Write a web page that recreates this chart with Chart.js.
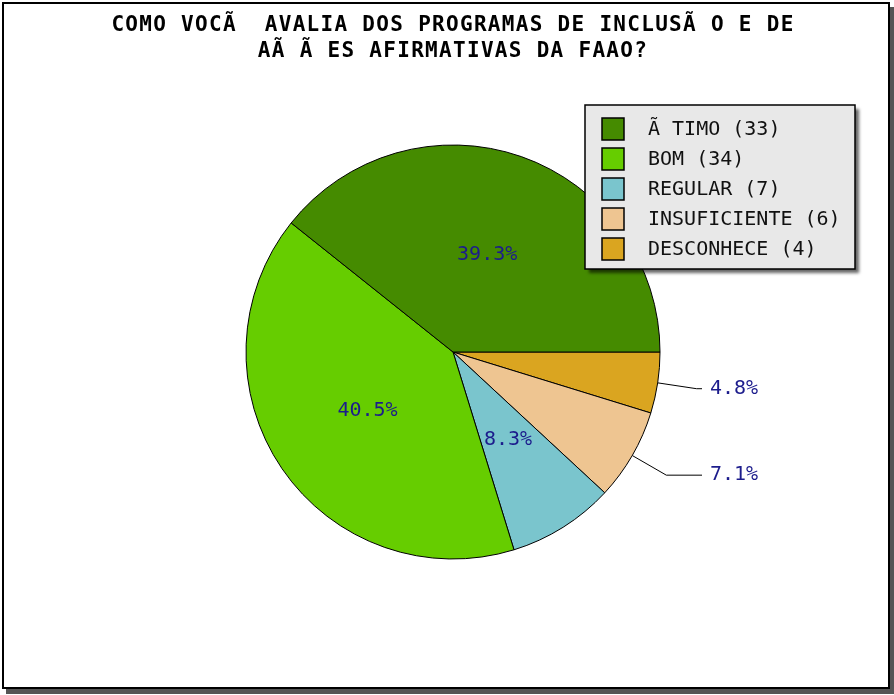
<!DOCTYPE html>
<html>
<head>
<meta charset="utf-8">
<script src="https://cdn.jsdelivr.net/npm/chart.js@4"></script>
<style>
    html, body { margin: 0; padding: 0; background: #fff; }
    #moldura { position: absolute; left: 2px; top: 2px; width: 884px; height: 683px; border: 2px solid #000; box-shadow: 4px 5px 0 #555; background: #fff; }
    #grafico { position: absolute; left: 0; top: 0; }
</style>
</head>
<body>
<div id="moldura"></div>
<canvas id="grafico" width="894" height="695"></canvas>
<script>
// Dados do gráfico (ordem da legenda)
const categorias = ['Ã TIMO', 'BOM', 'REGULAR', 'INSUFICIENTE', 'DESCONHECE'];
const respostas = [33, 34, 7, 6, 4];
const cores = ['#458B00', '#66CD00', '#7AC5CD', '#EEC591', '#DAA520'];
const titulo = ['COMO VOCÃ  AVALIA DOS PROGRAMAS DE INCLUSÃ O E DE', 'AÃ Ã ES AFIRMATIVAS DA FAAO?'];

// As fatias correm no sentido anti-horário no original: invertemos a ordem
const dadosPizza = respostas.slice().reverse();
const coresPizza = cores.slice().reverse();

// Espaçamento das letras só no título
const espacamento = {
    id: 'espacamento',
    beforeDraw(chart) { chart.ctx.letterSpacing = '1.3px'; },
    beforeDatasetsDraw(chart) { chart.ctx.letterSpacing = '0px'; }
};

// Rótulos de porcentagem (dentro ou fora com linha guia)
const rotulos = {
    id: 'rotulos',
    afterDatasetsDraw(chart) {
        const ctx = chart.ctx;
        const arcs = chart.getDatasetMeta(0).data;
        const dados = chart.data.datasets[0].data;
        const total = dados.reduce((a, b) => a + b, 0);
        ctx.save();
        ctx.font = '20px "DejaVu Sans Mono"';
        ctx.fillStyle = '#1c1c8c';
        ctx.textBaseline = 'middle';
        arcs.forEach((arc, i) => {
            const pct = dados[i] / total * 100;
            const txt = pct.toFixed(1) + '%';
            const p = arc.getProps(['x', 'y', 'startAngle', 'endAngle', 'outerRadius']);
            const meio = (p.startAngle + p.endAngle) / 2;
            if (pct >= 8) {
                const c = arc.getCenterPoint();
                ctx.textAlign = 'center';
                ctx.fillText(txt, c.x, c.y);
            } else {
                const bx = p.x + Math.cos(meio) * p.outerRadius;
                const by = p.y + Math.sin(meio) * p.outerRadius;
                const cx = p.x + Math.cos(meio) * p.outerRadius * 1.19;
                const cy = p.y + Math.sin(meio) * p.outerRadius * 1.19;
                const fimX = p.x + p.outerRadius + 42;
                ctx.beginPath();
                ctx.moveTo(bx, by);
                ctx.lineTo(cx, cy);
                ctx.lineTo(fimX, cy);
                ctx.strokeStyle = '#000';
                ctx.lineWidth = 1;
                ctx.stroke();
                ctx.textAlign = 'left';
                ctx.fillText(txt, fimX + 8, cy);
            }
        });
        ctx.restore();
    }
};

// Legenda em caixa cinza com sombra
const legenda = {
    id: 'legenda',
    afterDraw(chart) {
        const ctx = chart.ctx;
        const x0 = 585, y0 = 105, w = 270, h = 164;
        ctx.save();
        ctx.shadowColor = 'rgba(0,0,0,0.6)';
        ctx.shadowOffsetX = 4;
        ctx.shadowOffsetY = 4;
        ctx.shadowBlur = 3;
        ctx.fillStyle = '#e8e8e8';
        ctx.fillRect(x0, y0, w, h);
        ctx.shadowColor = 'transparent';
        ctx.strokeStyle = '#000';
        ctx.lineWidth = 1.5;
        ctx.strokeRect(x0, y0, w, h);
        ctx.font = '20px "DejaVu Sans Mono"';
        ctx.textBaseline = 'middle';
        ctx.textAlign = 'left';
        categorias.forEach((cat, i) => {
            const yc = 129 + i * 30;
            ctx.fillStyle = cores[i];
            ctx.fillRect(602, yc - 11, 22, 22);
            ctx.lineWidth = 1.5;
            ctx.strokeRect(602, yc - 11, 22, 22);
            ctx.fillStyle = '#111';
            ctx.fillText(cat + ' (' + respostas[i] + ')', 648, yc + 1);
        });
        ctx.restore();
    }
};

new Chart(document.getElementById('grafico'), {
    type: 'pie',
    data: {
        labels: categorias.slice().reverse(),
        datasets: [{
            data: dadosPizza,
            backgroundColor: coresPizza,
            borderColor: '#000',
            borderWidth: 1,
            radius: 207,
            rotation: 90
        }]
    },
    options: {
        responsive: false,
        animation: false,
        devicePixelRatio: 1,
        events: [],
        layout: { padding: { top: 0, left: 12, right: 0, bottom: 56 } },
        plugins: {
            legend: { display: false },
            tooltip: { enabled: false },
            title: {
                display: true,
                text: titulo,
                color: '#000',
                font: { family: 'DejaVu Sans Mono', size: 21, weight: 'bold', lineHeight: '26px' },
                padding: { top: 13, bottom: 0 }
            }
        }
    },
    plugins: [espacamento, rotulos, legenda]
});
</script>
</body>
</html>
